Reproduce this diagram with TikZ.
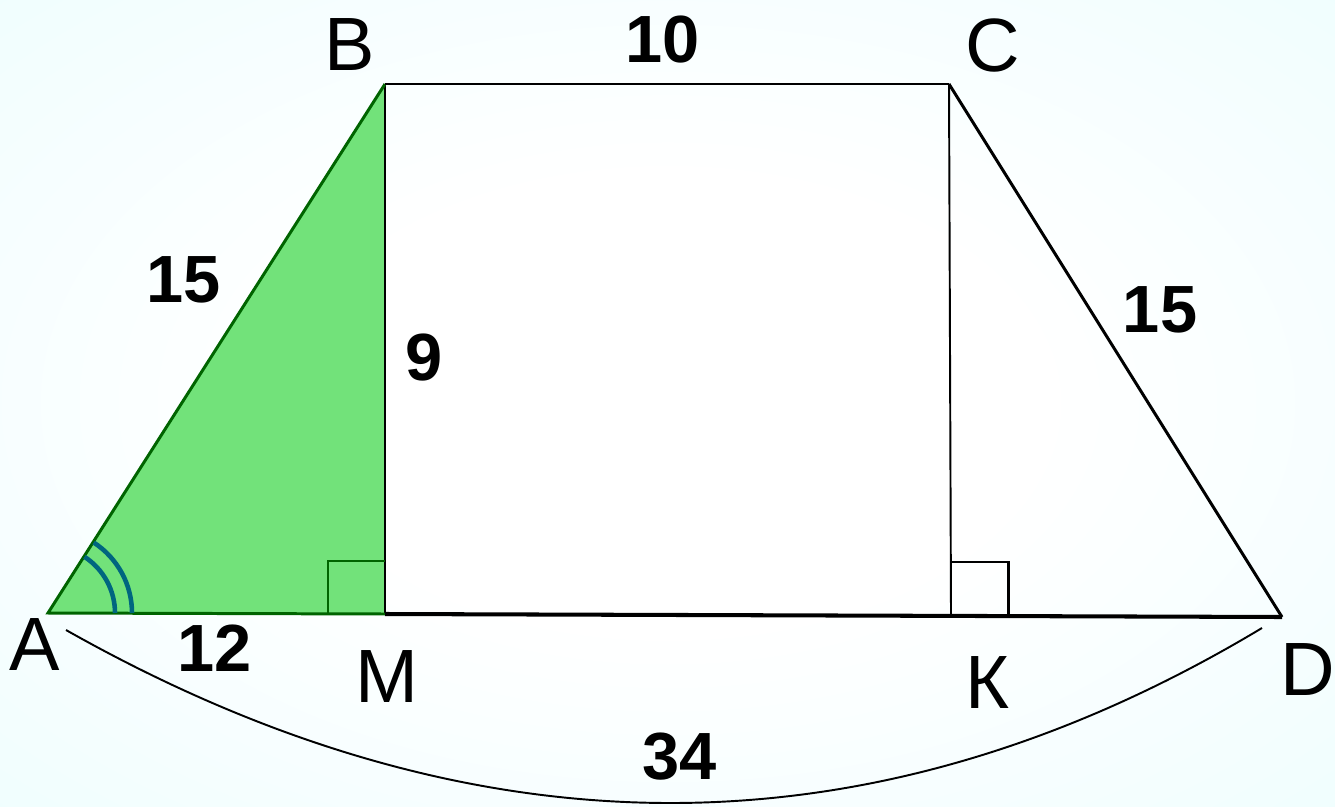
\documentclass[tikz,border=0pt]{standalone}
\usepackage{fontspec}
\setmainfont{Liberation Sans}
\usetikzlibrary{calc}
\definecolor{trifill}{HTML}{72E27A}
\definecolor{triedge}{HTML}{006400}
\definecolor{angmark}{HTML}{00667F}
\definecolor{bgcyan}{HTML}{D8FCFD}
\pgfdeclareradialshading{bgglow}{\pgfpoint{0bp}{0bp}}{%
  color(0bp)=(white); color(14bp)=(white); color(71bp)=(bgcyan)}

\begin{document}
\begin{tikzpicture}[
    x=0.02cm, y=0.02cm,
    vlbl/.style={font=\fontsize{43}{50}\selectfont, inner sep=0pt},
    numlbl/.style={font=\fontsize{38}{44}\selectfont\bfseries, inner sep=0pt},
    side/.style={line width=1.7pt, black},
    base/.style={line width=2.3pt, black},
    thin/.style={line width=1.1pt, black},
    green/.style={line width=1.7pt, triedge},
    ang/.style={line width=2.6pt, angmark},
]
% Canvas in pixel units (1335 x 806), background with soft cyan shading
\useasboundingbox (0,0) rectangle (1335,806);
\shade[shading=bgglow] (0,0) rectangle (1335,806);

% Vertices and feet of the heights
\coordinate (A) at (48,193);
\coordinate (B) at (385,722);
\coordinate (M) at (385,192);
\coordinate (C) at (949,722);
\coordinate (K) at (951,191);
\coordinate (D) at (1282,189);
% Ends of the curved span under AD
\coordinate (s1) at (66,176);
\coordinate (s2) at (1262,178);

% Shaded right triangle ABM
\fill[trifill] (A) -- (B) -- (M) -- cycle;
\draw[thin] (B) -- (M);
\draw[green] (M) -- (A) -- (B);
\draw[green] ($(M)+(-57,0)$) -- ++(0,53) -- ++(57,0);

% Trapezoid sides
\draw[side] (B) -- (C);
\draw[side] (C) -- (D);
\draw[base] (M) -- (D);
\draw[thin] (C) -- (K);
\draw[side] ($(K)+(0,53)$) -- ++(57,0) -- ++(0,-53);

% Double angle mark at A
\draw[ang] ($(A)+(67,0)$) arc[start angle=0, end angle=57, radius=67];
\draw[ang] ($(A)+(84,0)$) arc[start angle=0, end angle=57, radius=84];

% Span AD
\draw[thin] (s1) .. controls (475,-55) and (874,-55) .. (s2);

% Vertex letters
\node[vlbl] (lA) at (35,161)  {A};
\node[vlbl] (lB) at (350,761) {B};
\node[vlbl] (lC) at (993,761) {C};
\node[vlbl] (lM) at (387,129) {M};
\node[vlbl] (lK) at (987,123) {К};
\node[vlbl] (lD) at (1308,136) {D};
% Lengths
\node[numlbl] (nAB) at (184,526)  {15};
\node[numlbl] (nBC) at (663,766)  {10};
\node[numlbl] (nBM) at (424,448)  {9};
\node[numlbl] (nCD) at (1160,496) {15};
\node[numlbl] (nAM) at (215,158)  {12};
\node[numlbl] (nAD) at (680,49)   {34};
\end{tikzpicture}
\end{document}
